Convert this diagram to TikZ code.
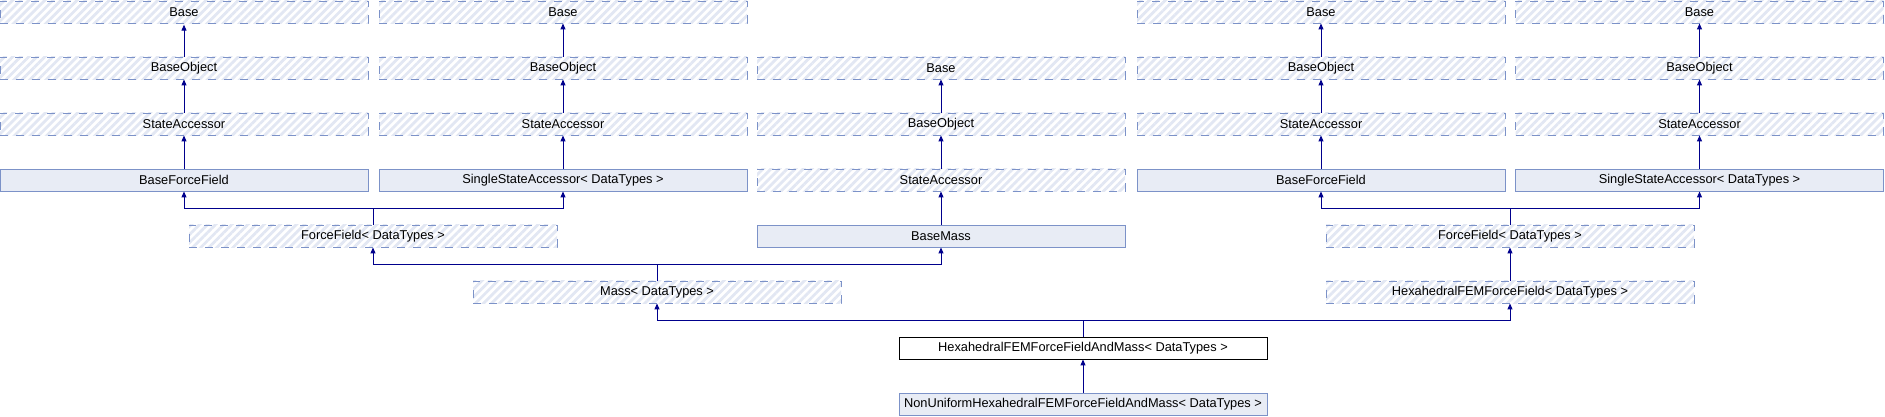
\documentclass[tikz,border=0pt]{standalone}
\usepackage{fontspec}
\setmainfont{Liberation Sans}
\usetikzlibrary{arrows.meta,patterns.meta}

\definecolor{boxline}{RGB}{124,146,200}
\definecolor{boxfill}{RGB}{232,236,245}
\definecolor{hatch}{RGB}{226,231,243}
\definecolor{edge}{RGB}{0,0,140}

\tikzset{
    cls/.style={minimum width=368pt, minimum height=22.5pt, inner sep=0pt, font=\fontsize{12.8}{14}\selectfont},
    undoc/.style={cls, draw=boxline, dash pattern=on 8pt off 8pt, pattern={Lines[angle=45,distance=5.7pt,line width=2.8pt]}, pattern color=hatch},
    doc/.style={cls, draw=boxline, fill=boxfill},
    self/.style={cls, draw=black, fill=white},
    inh/.style={draw=edge, line width=1pt, -{Triangle[length=6pt,width=5pt]}}
}

\begin{document}
\begin{tikzpicture}[x=1pt, y=-1pt]
    \useasboundingbox (0,0) rectangle (1885,416);

    % Base -> BaseObject -> StateAccessor, je Spalte
    \foreach \c/\x/\r in {1/184/0, 2/563/0, 3/941/1, 4/1321/0, 5/1699.5/0} {
        \node[undoc] (base\c) at (\x, 12+56*\r) {Base};
        \node[undoc] (obj\c) at (\x, 68+56*\r) {BaseObject};
        \node[undoc] (acc\c) at (\x, 124+56*\r) {StateAccessor};
        \draw[inh] (obj\c) -- (base\c);
        \draw[inh] (acc\c) -- (obj\c);
    }

    % Zeile 4
    \node[doc] (bff1) at (184, 180) {BaseForceField};
    \node[doc] (ssa2) at (563, 180) {SingleStateAccessor< DataTypes >};
    \node[doc] (bmass) at (941, 236) {BaseMass};
    \node[doc] (bff4) at (1321, 180) {BaseForceField};
    \node[doc] (ssa5) at (1699.5, 180) {SingleStateAccessor< DataTypes >};
    \draw[inh] (bff1) -- (acc1);
    \draw[inh] (ssa2) -- (acc2);
    \draw[inh] (bmass) -- (acc3);
    \draw[inh] (bff4) -- (acc4);
    \draw[inh] (ssa5) -- (acc5);

    % ForceField, Mass
    \node[undoc] (ffl) at (373, 236) {ForceField< DataTypes >};
    \node[undoc] (ffr) at (1510, 236) {ForceField< DataTypes >};
    \node[undoc] (mass) at (657, 292) {Mass< DataTypes >};
    \node[undoc] (hexff) at (1510, 292) {HexahedralFEMForceField< DataTypes >};
    \node[self] (hexmass) at (1083, 348) {HexahedralFEMForceFieldAndMass< DataTypes >};
    \node[doc] (nonuni) at (1083, 404) {NonUniformHexahedralFEMForceFieldAndMass< DataTypes >};

    \coordinate (jffl) at (373, 208);
    \coordinate (jffr) at (1510, 208);
    \coordinate (jmass) at (657, 264);
    \coordinate (jhex) at (1083, 320);

    \draw[inh] (ffl) -- (jffl) -| (bff1);
    \draw[inh] (jffl) -| (ssa2);
    \draw[inh] (ffr) -- (jffr) -| (bff4);
    \draw[inh] (jffr) -| (ssa5);
    \draw[inh] (mass) -- (jmass) -| (ffl);
    \draw[inh] (jmass) -| (bmass);
    \draw[inh] (hexff) -- (ffr);
    \draw[inh] (hexmass) -- (jhex) -| (mass);
    \draw[inh] (jhex) -| (hexff);
    \draw[inh] (nonuni) -- (hexmass);
\end{tikzpicture}
\end{document}
